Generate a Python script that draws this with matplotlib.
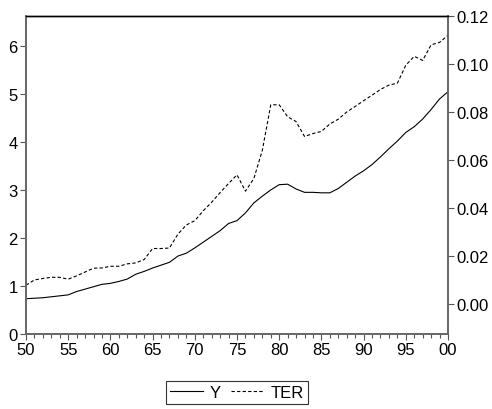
"""
Y (left axis) vs TER (right axis), 1950-2000
"""

import numpy as np
import matplotlib
matplotlib.use("Agg")
import matplotlib.pyplot as plt
import matplotlib.ticker as mtick

plt.rcParams['font.family'] = ['Liberation Sans', 'DejaVu Sans']

years = list(range(1950, 2001))

y_vals = [0.73, 0.74, 0.75, 0.77, 0.79, 0.81, 0.88, 0.93, 0.98, 1.03,
          1.05, 1.09, 1.14, 1.24, 1.30, 1.37, 1.43, 1.49, 1.62, 1.68,
          1.79, 1.91, 2.03, 2.15, 2.30, 2.36, 2.52, 2.73, 2.87, 3.00,
          3.11, 3.12, 3.02, 2.95, 2.95, 2.94, 2.94, 3.03, 3.16, 3.29,
          3.40, 3.53, 3.69, 3.86, 4.02, 4.20, 4.32, 4.48, 4.68, 4.90,
          5.05]

ter_vals = [0.0078, 0.0100, 0.0106, 0.0111, 0.0111, 0.0103, 0.0117, 0.0133, 0.0149, 0.0150,
            0.0157, 0.0157, 0.0167, 0.0171, 0.0185, 0.0231, 0.0231, 0.0233, 0.0291, 0.0329,
            0.0347, 0.0388, 0.0424, 0.0464, 0.0502, 0.0538, 0.0470, 0.0523, 0.0640, 0.0830,
            0.0830, 0.0780, 0.0760, 0.0698, 0.0710, 0.0719, 0.0750, 0.0770, 0.0800, 0.0823,
            0.0847, 0.0870, 0.0894, 0.0912, 0.0920, 0.0995, 0.1032, 0.1015, 0.1080, 0.1090,
            0.1120]

tick_years = list(range(1950, 2001, 5))
tick_labels = ['50', '55', '60', '65', '70', '75', '80', '85', '90', '95', '00']

fig = plt.figure(figsize=(4.92, 4.10), dpi=100)
ax = fig.add_axes([0.0528, 0.1837, 0.8578, 0.7748])
ax2 = ax.twinx()

l1, = ax.plot(years, y_vals, color='black', lw=0.8, label='Y')
l2, = ax2.plot(years, ter_vals, color='black', lw=0.8, ls=(0, (3, 2)), label='TER')

ax.set_xlim(1950, 2000)
ax.set_ylim(0, 6.63)
ax2.set_ylim(-0.0124, 0.12)

ax.set_xticks(tick_years)
ax.set_xticklabels(tick_labels)
ax.xaxis.set_minor_locator(mtick.MultipleLocator(1))
ax.set_yticks([0, 1, 2, 3, 4, 5, 6])
ax2.set_yticks([0.0, 0.02, 0.04, 0.06, 0.08, 0.10, 0.12])
ax2.yaxis.set_major_formatter(mtick.FormatStrFormatter('%.2f'))

for a in (ax, ax2):
    a.tick_params(labelsize=12, length=4, width=0.8, color='#555555', pad=2)
    a.tick_params(which='minor', length=3, width=0.8, color='#555555')
    for side in ('left', 'right', 'bottom'):
        a.spines[side].set_color('#666666')
        a.spines[side].set_linewidth(1.2)
    a.spines['top'].set_color('black')
    a.spines['top'].set_linewidth(1.0)

leg = fig.legend([l1, l2], ['Y', 'TER'], loc='center', bbox_to_anchor=(0.482, 0.041),
                 ncol=2, frameon=True, fancybox=False, fontsize=12,
                 handlelength=2.0, handletextpad=0.4, columnspacing=0.6,
                 borderpad=0.25, borderaxespad=0)
leg.get_frame().set_edgecolor('black')
leg.get_frame().set_linewidth(0.8)

fig.savefig('out.png', dpi=100)
